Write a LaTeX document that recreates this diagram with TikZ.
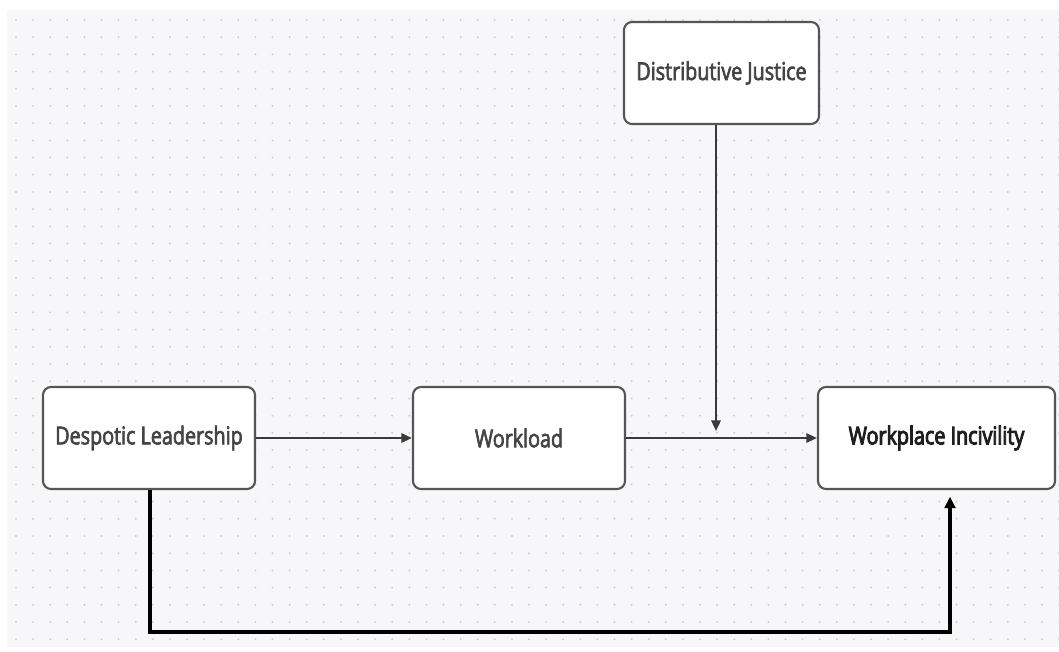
\documentclass[tikz,border=0pt]{standalone}
\usepackage{fontspec}
\setmainfont{Open Sans}[FakeStretch=0.8,FakeBold=2.6]
\usetikzlibrary{arrows.meta}
\definecolor{bgc}{HTML}{F7F7FA}
\definecolor{dotc}{HTML}{CDCDD6}
\definecolor{boxline}{HTML}{555555}
\definecolor{txt}{HTML}{444444}
\definecolor{linec}{HTML}{3A3A3A}
\tikzset{
  box/.style={draw=boxline, line width=1.6pt, fill=white, rounded corners=6pt,
    minimum height=76.5pt, inner sep=0pt, text=txt, font=\fontsize{18.5}{21}\selectfont},
  conn/.style={draw=linec, line width=1.7pt, -{Triangle[length=8pt,width=7pt]}},
  thickconn/.style={draw=black, line width=2.9pt, -{Triangle[length=8.5pt,width=8pt]}}
}
\begin{document}
\begin{tikzpicture}[x=0.75pt,y=-0.75pt]
\useasboundingbox (0,0) rectangle (1059,652);
\fill[white] (0,0) rectangle (1059,652);
\fill[bgc] (7,10) rectangle (1059,647);
\foreach \i in {0,...,61}{
  \foreach \j in {0,...,36}{
    \fill[dotc] ({16+\i*17.1},{20+\j*17.2}) circle (1.1);
  }
}
\node[box, minimum width=159pt] (DL) at (149,438) {Despotic Leadership};
\node[box, minimum width=159pt] (WL) at (519,438) {Workload};
\node[box, minimum width=177.75pt, text=black!88] (WI) at (936.5,438) {\addfontfeatures{FakeBold=3.8}Workplace Incivility};
\node[box, minimum width=146.25pt] (DJ) at (721.5,73) {Distributive Justice};
\coordinate (mod) at (716,431);
\coordinate (c1) at (150,632);
\coordinate (c2) at (950,632);
\draw[conn] (DL.east) -- (WL.west);
\draw[conn] (WL.east) -- (WI.west);
\draw[conn] (DJ.south -| mod) -- (mod);
\draw[thickconn, shorten >=5pt] (DL.south -| c1) -- (c1) -- (c2) -- (c2 |- WI.south);
\end{tikzpicture}
\end{document}
